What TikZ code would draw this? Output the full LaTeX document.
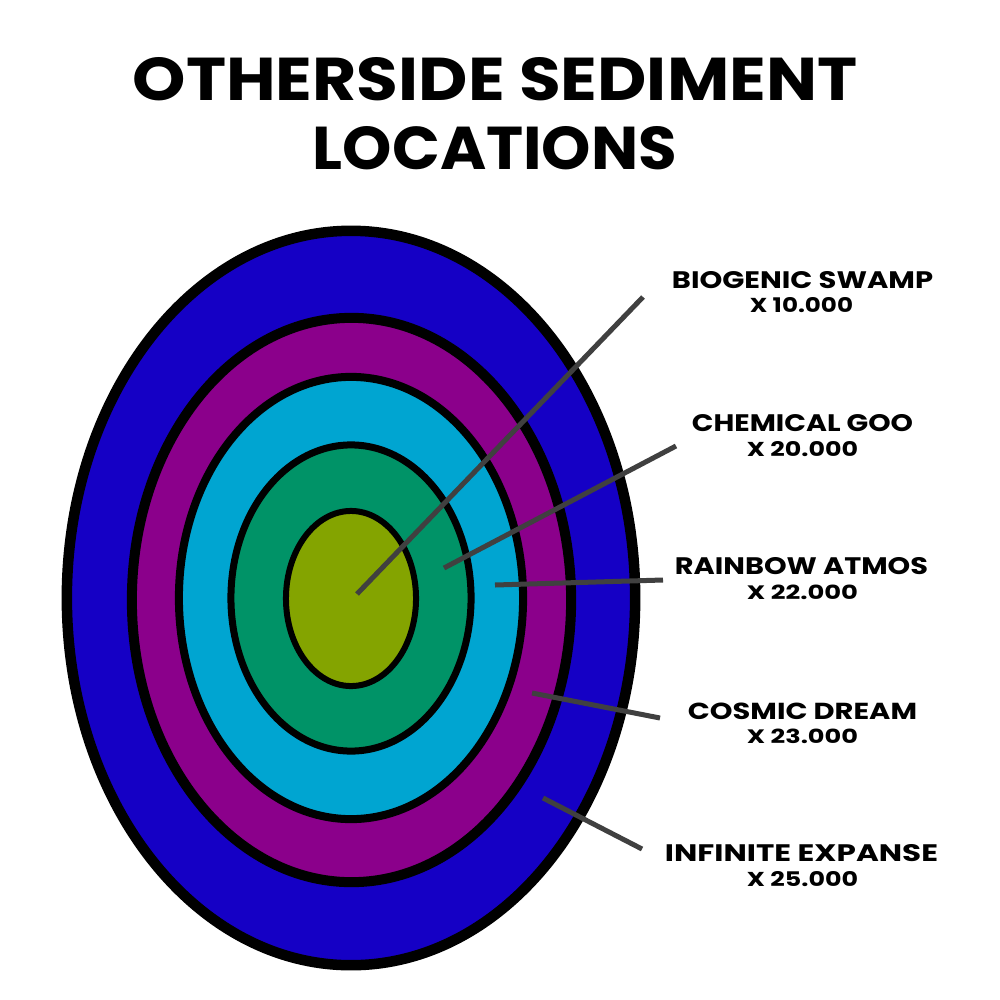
\documentclass[tikz,border=0pt]{standalone}
\usepackage{fontspec}
\setmainfont{Poppins}
\usepackage{graphicx}
\definecolor{cBlue}{RGB}{21,0,197}
\definecolor{cPurple}{RGB}{139,0,139}
\definecolor{cCyan}{RGB}{0,165,209}
\definecolor{cGreen}{RGB}{0,147,103}
\definecolor{cLime}{RGB}{132,164,0}
\definecolor{leadGray}{RGB}{64,64,64}
\newcommand{\myfit}[3]{\resizebox{#1}{#2}{\bfseries #3}}
\begin{document}
\begin{tikzpicture}[x=0.01cm,y=-0.01cm,
  ring/.style={draw=black},
  lead/.style={draw=leadGray, line width=0.05cm},
  lab/.style={inner sep=0pt, outer sep=0pt, text=black}]
\useasboundingbox[fill=white] (0,0) rectangle (1000,1000);

% title
\node[lab] (t1) at (495,79) {\myfit{7.24cm}{0.43cm}{OTHERSIDE SEDIMENT}};
\node[lab] (t2) at (495,148.5) {\myfit{3.64cm}{0.43cm}{LOCATIONS}};

% rings
\draw[ring, fill=cBlue, line width=0.105cm] (351,598) ellipse [x radius=2.84cm, y radius=3.67cm];
\draw[ring, fill=cPurple, line width=0.1cm] (351.5,600) ellipse [x radius=2.195cm, y radius=2.82cm];
\draw[ring, fill=cCyan, line width=0.08cm] (351,598) ellipse [x radius=1.72cm, y radius=2.21cm];
\draw[ring, fill=cGreen, line width=0.07cm] (351,598) ellipse [x radius=1.20cm, y radius=1.53cm];
\draw[ring, fill=cLime, line width=0.06cm] (351,598.5) ellipse [x radius=0.65cm, y radius=0.875cm];

% labels
\node[lab] (l1) at (802.5,280) {\myfit{2.61cm}{0.17cm}{BIOGENIC SWAMP}};
\node[lab] (n1) at (801.5,305.5) {\myfit{1.03cm}{0.15cm}{X 10.000}};
\node[lab] (l2) at (802.5,423.5) {\myfit{2.21cm}{0.17cm}{CHEMICAL GOO}};
\node[lab] (n2) at (802.5,449.5) {\myfit{1.11cm}{0.15cm}{X 20.000}};
\node[lab] (l3) at (801.5,566.5) {\myfit{2.53cm}{0.17cm}{RAINBOW ATMOS}};
\node[lab] (n3) at (802.5,592) {\myfit{1.11cm}{0.145cm}{X 22.000}};
\node[lab] (l4) at (802.5,711) {\myfit{2.29cm}{0.165cm}{COSMIC DREAM}};
\node[lab] (n4) at (802.5,736) {\myfit{1.11cm}{0.145cm}{X 23.000}};
\node[lab] (l5) at (801.5,853.5) {\myfit{2.73cm}{0.17cm}{INFINITE EXPANSE}};
\node[lab] (n5) at (802.5,879.5) {\myfit{1.11cm}{0.15cm}{X 25.000}};

% leader lines
\coordinate (s1) at (357,594);
\coordinate (e1) at (643,297);
\coordinate (s2) at (444,568);
\coordinate (e2) at (676,446);
\coordinate (s3) at (495,585);
\coordinate (e3) at (663,580);
\coordinate (s4) at (532,693);
\coordinate (e4) at (660,718);
\coordinate (s5) at (543,798);
\coordinate (e5) at (642,849);
\draw[lead] (s1) -- (e1);
\draw[lead] (s2) -- (e2);
\draw[lead] (s3) -- (e3);
\draw[lead] (s4) -- (e4);
\draw[lead] (s5) -- (e5);
\end{tikzpicture}
\end{document}
